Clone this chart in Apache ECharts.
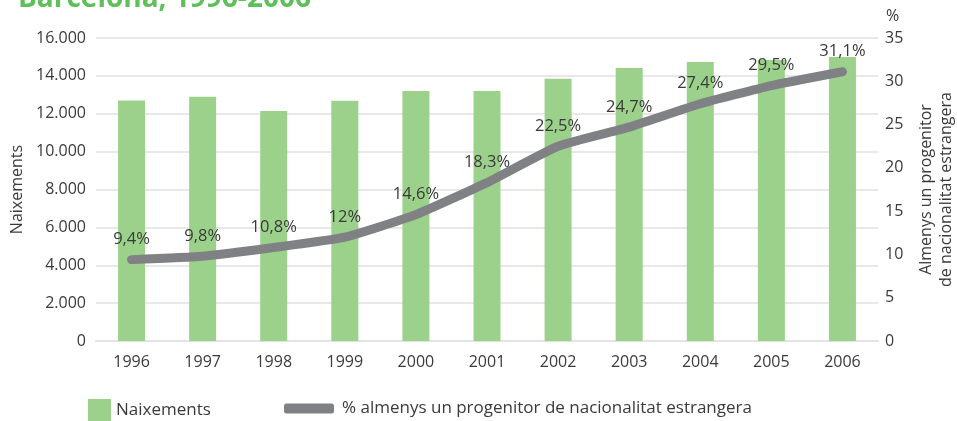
<!DOCTYPE html>
<html>
<head>
<meta charset="utf-8">
<script src="https://cdn.jsdelivr.net/npm/echarts@6/dist/echarts.min.js"></script>
<style>
  html, body { margin: 0; padding: 0; background: #fff; }
  #chart { width: 957px; height: 421px; }
</style>
</head>
<body>
<div id="chart"></div>
<script>
// dades llegides del gràfic
const years = ['1996', '1997', '1998', '1999', '2000', '2001', '2002', '2003', '2004', '2005', '2006'];
const naixements = [12700, 12900, 12150, 12680, 13200, 13200, 13850, 14420, 14730, 14840, 15000];
const pctEstrangers = [9.4, 9.8, 10.8, 12, 14.6, 18.3, 22.5, 24.7, 27.4, 29.5, 31.1];

const barName = 'Naixements';
const lineName = '% almenys un progenitor de nacionalitat estrangera';
const font = 'Open Sans';
const textColor = '#3a3a3a';

const myChart = echarts.init(document.getElementById('chart'));
const option = {
  textStyle: { fontFamily: font },
  title: {
    text: 'Barcelona, 1996-2006',
    left: 13,
    top: -20,
    textStyle: { color: '#5fbf5a', fontSize: 28, fontWeight: 'bold', fontFamily: font }
  },
  graphic: [{
    type: 'text',
    left: 886,
    top: 8,
    style: { text: '%', fill: textColor, fontSize: 16, fontFamily: font }
  }],
  legend: [
    {
      data: [barName],
      left: 88,
      top: 399,
      padding: 0,
      itemWidth: 23,
      itemHeight: 23,
      icon: 'rect',
      textStyle: { color: textColor, fontSize: 17, fontFamily: font }
    },
    {
      data: [lineName],
      left: 284,
      top: 400,
      padding: 0,
      itemWidth: 50,
      itemHeight: 10,
      icon: 'roundRect',
      textStyle: { color: textColor, fontSize: 17, fontFamily: font, padding: [0, 0, 0, 3] }
    }
  ],
  grid: { left: 96, right: 79, top: 38, bottom: 80, outerBoundsMode: 'none' },
  xAxis: {
    type: 'category',
    data: years,
    axisLine: { lineStyle: { color: '#e3e3e3', width: 2 } },
    axisTick: { length: 9, lineStyle: { color: '#e3e3e3', width: 2 } },
    axisLabel: { color: textColor, fontSize: 16, margin: 13 }
  },
  yAxis: [
    {
      type: 'value',
      min: 0,
      max: 16000,
      interval: 2000,
      name: 'Naixements',
      nameLocation: 'middle',
      nameGap: 71,
      nameTextStyle: { color: textColor, fontSize: 16 },
      axisLine: { show: false },
      axisTick: { show: false },
      splitLine: { lineStyle: { color: '#e8e8e8', width: 2 } },
      axisLabel: {
        color: textColor,
        fontSize: 16,
        margin: 10,
        formatter: v => v.toLocaleString('de-DE')
      }
    },
    {
      type: 'value',
      min: 0,
      max: 35,
      interval: 5,
      position: 'right',
      name: 'Almenys un progenitor\nde nacionalitat estrangera',
      nameLocation: 'middle',
      nameRotate: 90,
      nameGap: 38,
      nameTextStyle: { color: textColor, fontSize: 16, lineHeight: 20 },
      axisLine: { show: false },
      axisTick: { show: false },
      splitLine: { show: false },
      axisLabel: { color: textColor, fontSize: 16, margin: 7 }
    }
  ],
  series: [
    {
      name: barName,
      type: 'bar',
      data: naixements,
      barWidth: 27,
      itemStyle: { color: '#9bd18a' }
    },
    {
      name: lineName,
      type: 'line',
      yAxisIndex: 1,
      data: pctEstrangers,
      smooth: 0.15,
      symbol: 'circle',
      symbolSize: 1,
      itemStyle: { color: '#808184' },
      lineStyle: { color: '#808184', width: 9, cap: 'round', join: 'round' },
      label: {
        show: true,
        position: 'top',
        distance: 11,
        color: textColor,
        fontSize: 16.5,
        formatter: p => String(p.value).replace('.', ',') + '%'
      }
    }
  ]
};
myChart.setOption(option);
</script>
</body>
</html>
